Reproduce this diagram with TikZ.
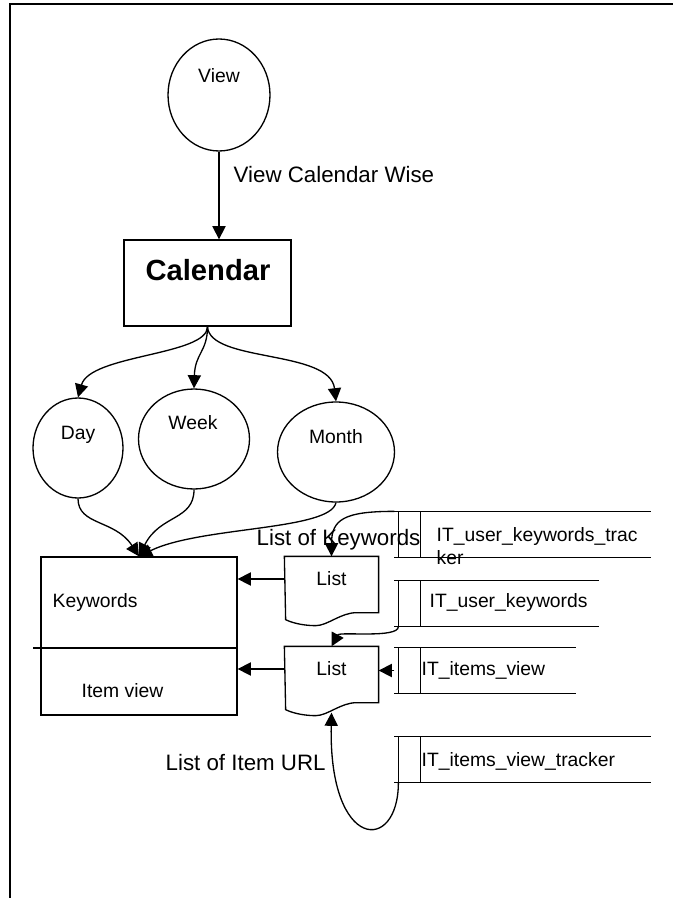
\documentclass[tikz,border=0pt]{standalone}
\usepackage{fontspec}
\setmainfont{Liberation Sans}
\usetikzlibrary{arrows.meta,shapes.geometric}
\tikzset{
  proc/.style={draw,ellipse,inner sep=0pt,minimum height=2cm},
  calbox/.style={draw,rectangle,minimum width=3.34cm,minimum height=1.72cm},
  kwbox/.style={draw,rectangle,minimum width=3.92cm,minimum height=3.16cm},
  doc/.style={rectangle,minimum width=1.86cm,minimum height=0.88cm,inner sep=0pt,font=\fontsize{11}{13}\selectfont},
  store/.style={rectangle,minimum height=0.9cm,inner sep=0pt},
  big/.style={font=\fontsize{12.7}{15}\selectfont,inner sep=0pt},
  small/.style={font=\fontsize{11}{13}\selectfont,inner sep=0pt}
}
\newcommand{\docshape}[1]{%
  \draw (#1.north west) -- (#1.north east) -- (#1.south east) -- ++(0,11) -- ++(-22,0)
    .. controls +(-16,0) and +(12,0) .. ++(-41,13)
    .. controls +(-10,0) and +(8,4) .. ++(-30,-6) -- cycle;}
\newcommand{\storeshape}[1]{%
  \draw (#1.north west) -- (#1.north east) (#1.south west) -- (#1.south east);
  \draw ([xshift=0.08cm]#1.north west) -- ([xshift=0.08cm]#1.south west);
  \draw ([xshift=0.52cm]#1.north west) -- ([xshift=0.52cm]#1.south west);}

\begin{document}
\begin{tikzpicture}[x=0.02cm,y=-0.02cm,line width=0.75pt,>={Triangle[length=7.5pt,width=7.5pt]}]
  \useasboundingbox (0,0) rectangle (673,898);
  \draw (10,898) -- (10,4) -- (673,4);
  % view and calendar
  \node[proc,minimum width=2.04cm,minimum height=2.24cm] (view) at (219,95) {};
  \node[small] (viewt) at (219,76) {View};
  \node[calbox] (cal) at (207.5,283) {};
  \node[font=\fontsize{16.6}{19}\selectfont\bfseries] (calt) at (208,270) {Calendar};
  \draw[->] (view.south) -- (view.south |- cal.north);
  \node[big,anchor=base west] (vcw) at (233,183) {View Calendar Wise};
  % day / week / month
  \node[proc,minimum width=1.8cm] (day) at (78,448) {};
  \node[small] (dayt) at (78,435) {Day};
  \node[proc,minimum width=2.22cm] (week) at (194,439) {};
  \node[small] (weekt) at (193,423) {Week};
  \node[proc,minimum width=2.34cm] (month) at (336,452) {};
  \node[small] (montht) at (336,437) {Month};
  \draw[->] (cal.south) .. controls +(0,29) and +(12,-43) .. (day.north);
  \draw[->] (cal.south) .. controls +(0,25) and +(1,-35) .. (week.north);
  \draw[->] (cal.south) .. controls +(2,36) and +(-6,-52) .. (month.north);
  % keywords / item view
  \node[kwbox] (kw) at (139,636) {};
  \draw (33,648) -- (237,648);
  \node[small,anchor=base west] (kwt) at (52,607) {Keywords};
  \node[small,anchor=base west] (ivt) at (81,697) {Item view};
  \draw[->] (day.south) .. controls +(0,27) and +(-24,-37) .. (kw.north);
  \draw[->] (week.south) .. controls +(0,31) and +(21,-42) .. (kw.north);
  \draw[->] (month.south) .. controls +(-6,28) and +(61,-30) .. (kw.north);
  % lists
  \node[doc] (list1) at (331.5,579) {List};
  \docshape{list1}
  \node[doc] (list2) at (331.5,669) {List};
  \docshape{list2}
  \draw[->] (list1.west) -- (list1.west -| kw.east);
  \draw[->] (list2.west) -- (list2.west -| kw.east);
  % data stores
  \node[store,minimum width=5.1cm] (st1) at (522.5,534.5) {};
  \storeshape{st1}
  \node[small,anchor=west,align=left] (st1t) at (436,546) {IT\_user\_keywords\_trac\\ker};
  \node[store,minimum width=4.06cm] (st2) at (496.5,603.5) {};
  \storeshape{st2}
  \node[small,anchor=base west] (st2t) at (429,607) {IT\_user\_keywords};
  \node[store,minimum width=3.6cm] (st3) at (485,670.5) {};
  \storeshape{st3}
  \node[small,anchor=base west] (st3t) at (421,675) {IT\_items\_view};
  \node[store,minimum width=5.1cm] (st4) at (522.5,759.5) {};
  \storeshape{st4}
  \node[small,anchor=base west] (st4t) at (421,766) {IT\_items\_view\_tracker};
  % flows from stores
  \draw[->] (st1.north west) .. controls +(-50,0) and +(0,-37) .. (list1.north);
  \node[big,anchor=base west] (lok) at (256,545) {List of Keywords};
  \draw[->] ([xshift=0.08cm]st2.south west) .. controls +(0,12) and +(8,-15) .. (list2.north);
  \draw[->] (st3.west) -- (st3.west -| list2.east);
  \coordinate (list2low) at ([yshift=-0.42cm]list2.south);
  \draw[->] ([xshift=0.08cm]st4.south west) .. controls +(0,71) and +(-3,139) .. (list2low);
  \node[big,anchor=base west] (liu) at (165,770) {List of Item URL};
\end{tikzpicture}
\end{document}
